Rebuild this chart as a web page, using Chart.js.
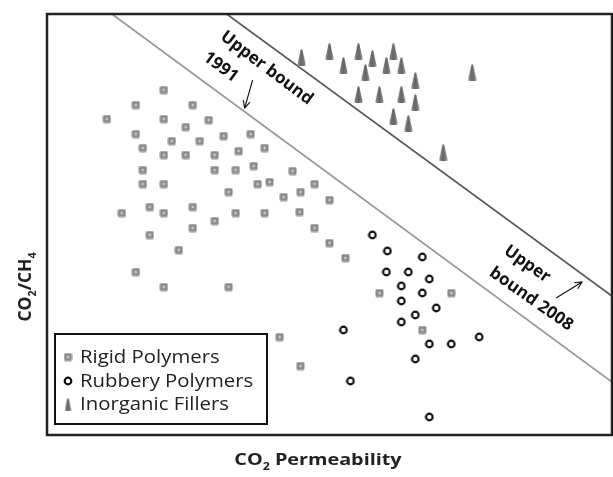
<!DOCTYPE html>
<html>
<head>
<meta charset="utf-8">
<script src="https://cdn.jsdelivr.net/npm/chart.js@4.4.0/dist/chart.umd.min.js"></script>
<style>
  body { margin: 0; background: #fff; }
  #wrap { width: 613px; height: 477px; }
</style>
</head>
<body>
<div id="wrap"><canvas id="chart" width="613" height="477"></canvas></div>
<script>
// values (arbitrary units, x = permeability, y = selectivity)
const rigidX = [117, 89, 146, 60, 117, 139, 162, 89, 125, 153, 177, 204, 96, 192, 218, 117, 139, 168,
  96, 168, 189, 207, 246, 96, 117, 211, 223, 182, 237, 254, 268, 283, 75, 103, 117, 146, 189, 218,
  253, 168, 146, 103, 268, 283, 299, 132, 89, 117, 182, 233, 254, 333, 405, 376];
const rigidY = [345, 330, 330, 316, 316, 308, 315, 301, 294, 294, 299, 301, 287, 284, 287, 280, 280, 280,
  265, 265, 265, 269, 264, 251, 251, 251, 253, 243, 238, 243, 251, 235, 222, 228, 222, 228, 222, 222,
  223, 214, 207, 200, 207, 192, 177, 185, 163, 148, 148, 98, 69, 142, 142, 105];

const rubberyX = [326, 341, 376, 340, 362, 383, 355, 376, 355, 390, 369, 355, 297, 383, 405, 433, 369, 304, 383];
const rubberyY = [200, 184, 178, 163, 163, 156, 149, 142, 134, 127, 120, 113, 105, 91, 91, 98, 76, 54, 18];

const fillerX = [255, 283, 297, 312, 326, 319, 347, 340, 355, 369, 426, 312, 333, 355, 369, 347, 362, 397];
const fillerY = [378, 384, 370, 384, 377, 363, 384, 370, 370, 355, 363, 341, 341, 341, 333, 319, 312, 283];

const bound1991X = [65, 566];
const bound1991Y = [421, 53];
const bound2008X = [180, 566];
const bound2008Y = [421, 139];

const seriesNames = ['Rigid Polymers', 'Rubbery Polymers', 'Inorganic Fillers'];

function pts(xs, ys) {
  return xs.map((x, i) => ({ x: x, y: ys[i] }));
}

// marker images
function makeSquare() {
  const c = document.createElement('canvas');
  c.width = 9; c.height = 9;
  const g = c.getContext('2d');
  g.fillStyle = '#8c8c8c';
  g.beginPath();
  g.roundRect(0.5, 0.5, 8, 8, 1.5);
  g.fill();
  g.fillStyle = '#e6e6e6';
  g.fillRect(3.5, 3.5, 2, 2);
  return c;
}
function makeCircle() {
  const c = document.createElement('canvas');
  c.width = 10; c.height = 10;
  const g = c.getContext('2d');
  g.strokeStyle = '#111';
  g.lineWidth = 2.2;
  g.beginPath();
  g.arc(5, 5, 3.3, 0, Math.PI * 2);
  g.stroke();
  return c;
}
function makeTriangle(w, h) {
  const c = document.createElement('canvas');
  c.width = w; c.height = h;
  const g = c.getContext('2d');
  const grad = g.createLinearGradient(0, 0, w, 0);
  grad.addColorStop(0, '#8a8a8a');
  grad.addColorStop(0.5, '#666');
  grad.addColorStop(1, '#8a8a8a');
  g.fillStyle = grad;
  g.beginPath();
  g.moveTo(0.3, h - 0.5);
  g.quadraticCurveTo(w * 0.3, h * 0.35, w / 2 - 1, 1.5);
  g.quadraticCurveTo(w / 2, 0, w / 2 + 1, 1.5);
  g.quadraticCurveTo(w * 0.7, h * 0.35, w - 0.3, h - 0.5);
  g.quadraticCurveTo(w / 2, h + 0.5, 0.3, h - 0.5);
  g.fill();
  return c;
}

const squareImg = makeSquare();
const circleImg = makeCircle();
const triImg = makeTriangle(9, 17);
const triSmall = makeTriangle(7, 13);

const FONT = '"Open Sans", "DejaVu Sans", sans-serif';

// text runs with subscripts, centred on x; sx stretches horizontally
function drawRuns(ctx, runs, x, y, size, sx) {
  let total = 0;
  runs.forEach(r => {
    ctx.font = 'bold ' + (r.sub ? size * 0.62 : size) + 'px ' + FONT;
    r.w = ctx.measureText(r.t).width;
    total += r.w;
  });
  ctx.save();
  ctx.translate(x, y);
  ctx.scale(sx, 1);
  let cx = -total / 2;
  runs.forEach(r => {
    ctx.font = 'bold ' + (r.sub ? size * 0.62 : size) + 'px ' + FONT;
    ctx.fillText(r.t, cx, r.sub ? size * 0.28 : 0);
    cx += r.w;
  });
  ctx.restore();
}

function arrow(ctx, x1, y1, x2, y2) {
  const a = Math.atan2(y2 - y1, x2 - x1);
  ctx.beginPath();
  ctx.moveTo(x1, y1);
  ctx.lineTo(x2, y2);
  ctx.moveTo(x2 - 8 * Math.cos(a - 0.45), y2 - 8 * Math.sin(a - 0.45));
  ctx.lineTo(x2, y2);
  ctx.lineTo(x2 - 8 * Math.cos(a + 0.45), y2 - 8 * Math.sin(a + 0.45));
  ctx.stroke();
}

const decorPlugin = {
  id: 'decor',
  afterDraw(chart) {
    const ctx = chart.ctx;
    const a = chart.chartArea;
    const xs = chart.scales.x, ys = chart.scales.y;
    const px = v => xs.getPixelForValue(v);
    const py = v => ys.getPixelForValue(v);

    ctx.save();
    // frame
    ctx.strokeStyle = '#222';
    ctx.lineWidth = 2.5;
    ctx.strokeRect(a.left, a.top, a.right - a.left, a.bottom - a.top);

    // bound labels
    ctx.fillStyle = '#111';
    ctx.textAlign = 'center';
    ctx.textBaseline = 'middle';
    ctx.font = 'bold 17px ' + FONT;
    function rotText(t, x, y, deg) {
      ctx.save();
      ctx.translate(px(x), py(y));
      ctx.rotate(deg * Math.PI / 180);
      ctx.fillText(t, 0, 0);
      ctx.restore();
    }
    rotText('Upper bound', 220, 367, 37);
    rotText('1991', 174, 368, 37);
    rotText('Upper', 481, 171, 35);
    rotText('bound 2008', 485, 136, 35);

    ctx.strokeStyle = '#111';
    ctx.lineWidth = 1.1;
    arrow(ctx, px(206), py(355), px(198), py(327));
    arrow(ctx, px(510), py(137), px(536), py(153));

    // legend
    ctx.strokeStyle = '#111';
    ctx.lineWidth = 2;
    ctx.fillStyle = '#fff';
    ctx.fillRect(55, 334, 212, 90);
    ctx.strokeRect(55, 334, 212, 90);
    const marks = [squareImg, circleImg, triSmall];
    const rows = [357, 381, 404];
    ctx.textAlign = 'left';
    ctx.fillStyle = '#222';
    ctx.font = '18px ' + FONT;
    seriesNames.forEach((n, i) => {
      const m = marks[i];
      ctx.drawImage(m, 68 - m.width / 2, rows[i] - m.height / 2);
      ctx.save();
      ctx.translate(80, rows[i] + 1);
      ctx.scale(1.13, 1);
      ctx.fillText(n, 0, 0);
      ctx.restore();
    });

    // axis titles
    ctx.fillStyle = '#222';
    ctx.textAlign = 'left';
    ctx.textBaseline = 'alphabetic';
    drawRuns(ctx, [{ t: 'CO' }, { t: '2', sub: true }, { t: ' Permeability' }], 318, 465, 16.5, 1.2);
    ctx.save();
    ctx.translate(31, 287);
    ctx.rotate(-Math.PI / 2);
    drawRuns(ctx, [{ t: 'CO' }, { t: '2', sub: true }, { t: '/CH' }, { t: '4', sub: true }], 0, 0, 17.5, 1);
    ctx.restore();
    ctx.restore();
  }
};

new Chart(document.getElementById('chart').getContext('2d'), {
  type: 'scatter',
  data: {
    datasets: [
      { label: seriesNames[0], data: pts(rigidX, rigidY), pointStyle: squareImg, pointRadius: 5, order: 1 },
      { label: seriesNames[1], data: pts(rubberyX, rubberyY), pointStyle: circleImg, pointRadius: 5, order: 1 },
      { label: seriesNames[2], data: pts(fillerX, fillerY), pointStyle: triImg, pointRadius: 5, order: 1 },
      { label: 'Upper bound 1991', data: pts(bound1991X, bound1991Y), showLine: true, pointRadius: 0,
        borderColor: '#9a9a9a', borderWidth: 1.8, order: 2 },
      { label: 'Upper bound 2008', data: pts(bound2008X, bound2008Y), showLine: true, pointRadius: 0,
        borderColor: '#555', borderWidth: 1.6, order: 2 }
    ]
  },
  options: {
    responsive: false,
    animation: false,
    events: [],
    layout: { autoPadding: false, padding: { left: 47, top: 14, right: 1, bottom: 42 } },
    plugins: { legend: { display: false }, tooltip: { enabled: false } },
    scales: {
      x: { type: 'linear', display: false, min: 0, max: 566 },
      y: { type: 'linear', display: false, min: 0, max: 421 }
    }
  },
  plugins: [decorPlugin]
});
</script>
</body>
</html>
